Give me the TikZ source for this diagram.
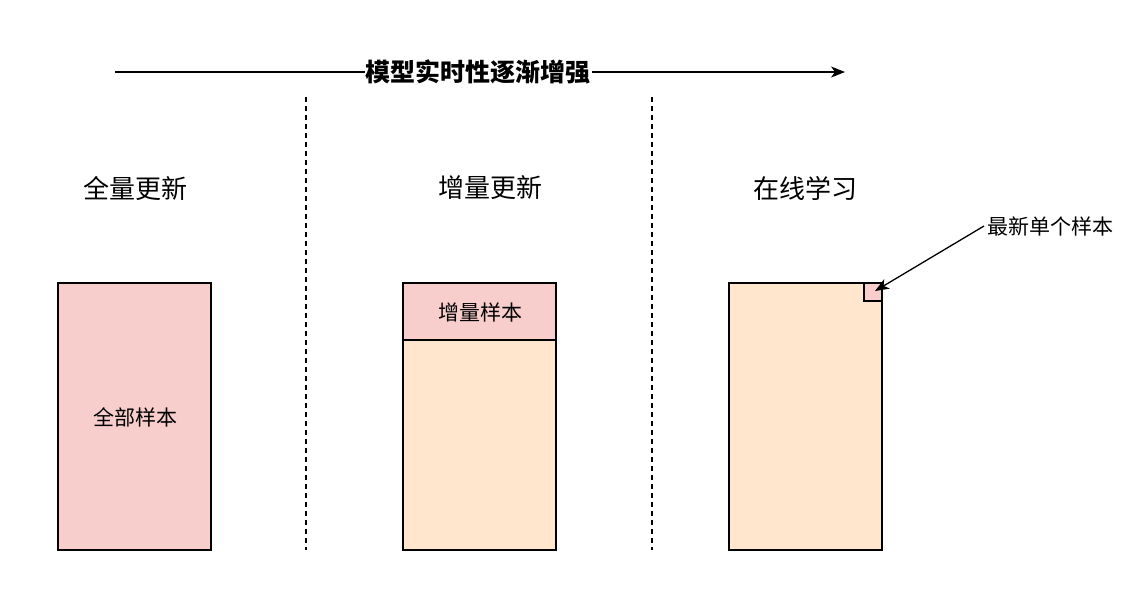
\documentclass[tikz,border=0pt]{standalone}
\usepackage{fontspec}
\usetikzlibrary{arrows.meta}
\setmainfont{Noto Sans CJK SC}
\begin{document}
\begin{tikzpicture}[x=1pt,y=-1pt,
  lbl/.style={font=\fontsize{21}{24}\selectfont},
  ttl/.style={font=\fontsize{26}{30}\selectfont},
  >={Stealth[length=14pt,width=11pt,inset=4pt]}]
\definecolor{rgbpink}{HTML}{F8CECC}
\definecolor{rgborange}{HTML}{FFE6CC}
\tikzset{pinkbox/.style={draw,fill=rgbpink,line width=1.2pt},orangebox/.style={draw,fill=rgborange,line width=1.2pt}}
\useasboundingbox (0,0) rectangle (1142,614);
\coordinate (a0) at (115,72);
\coordinate (a1) at (845,72);
\draw[->,line width=1.3pt] (a0) -- (a1);
\node[fill=white,inner sep=1pt,font=\fontsize{25}{28}\selectfont\bfseries] (hdr) at (478,72) {模型实时性逐渐增强};
\coordinate (d1t) at (306,97); \coordinate (d1b) at (306,550);
\coordinate (d2t) at (652,97); \coordinate (d2b) at (652,550);
\draw[dash pattern=on 5pt off 4pt,line width=1.2pt] (d1t) -- (d1b);
\draw[dash pattern=on 5pt off 4pt,line width=1.2pt] (d2t) -- (d2b);
\node[ttl] (t1) at (135,188) {全量更新};
\node[ttl] (t2) at (490,188) {增量更新};
\node[ttl] (t3) at (805,188) {在线学习};
\draw[pinkbox] (58,283) rectangle (211,550);
\node[lbl] (b1) at (135,417) {全部样本};
\draw[orangebox] (403,283) rectangle (556,550);
\draw[pinkbox] (403,283) rectangle (556,340);
\node[lbl] (b2) at (480,312) {增量样本};
\draw[orangebox] (729,283) rectangle (882,550);
\draw[pinkbox] (864,283) rectangle (882,301);
\coordinate (sq) at (875,291);
\node[lbl,anchor=west] (n) at (984,226) {最新单个样本};
\draw[->,line width=1.3pt] (n.west) -- (sq);
\end{tikzpicture}
\end{document}
